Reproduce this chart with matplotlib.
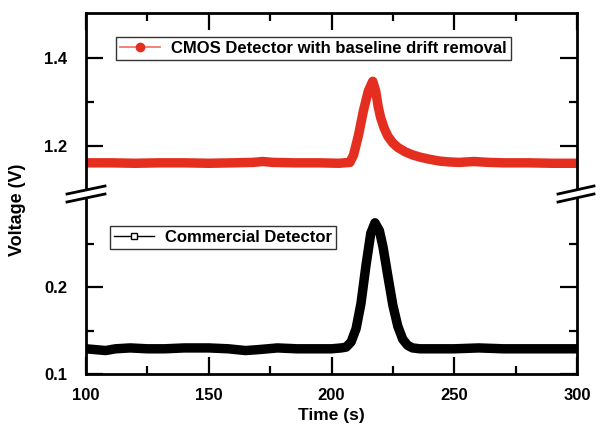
import matplotlib
matplotlib.use("Agg")
import matplotlib.pyplot as plt
from matplotlib.lines import Line2D
from matplotlib.patches import Polygon
from matplotlib.ticker import FixedLocator

plt.rcParams['font.family'] = ['Liberation Sans', 'DejaVu Sans']
plt.rcParams['font.weight'] = 'bold'

# CMOS detector signal after baseline drift removal
cmos_time = [100, 110, 120, 130, 140, 150, 160, 168, 172, 176, 185, 195, 203, 207.5,
             209, 211, 213, 215, 216.8, 218, 219, 220, 221.5, 223, 225, 227, 230, 233,
             236, 240, 244, 248, 252, 258, 264, 270, 280, 290, 300]
cmos_volt = [1.162, 1.162, 1.161, 1.162, 1.162, 1.161, 1.162, 1.163, 1.165, 1.163, 1.162,
             1.162, 1.161, 1.163, 1.180, 1.225, 1.280, 1.325, 1.347, 1.325, 1.290, 1.265,
             1.240, 1.222, 1.207, 1.197, 1.187, 1.180, 1.175, 1.170, 1.166, 1.164, 1.163,
             1.165, 1.163, 1.162, 1.162, 1.161, 1.161]

# Commercial detector signal
comm_time = [100, 104, 108, 112, 118, 125, 132, 140, 150, 158, 165, 170, 178, 186, 194,
             200, 204, 206, 208, 210, 212, 214, 216, 217.7, 219.5, 221, 223, 225, 227,
             229, 231, 233, 236, 242, 250, 260, 270, 280, 290, 300]
comm_volt = [0.129, 0.128, 0.127, 0.129, 0.130, 0.129, 0.129, 0.130, 0.130, 0.129, 0.127,
             0.128, 0.130, 0.129, 0.129, 0.129, 0.130, 0.131, 0.137, 0.152, 0.181, 0.224,
             0.262, 0.274, 0.265, 0.246, 0.212, 0.179, 0.155, 0.140, 0.133, 0.130, 0.129,
             0.129, 0.129, 0.130, 0.129, 0.129, 0.129, 0.129]

x_ticks = [100, 150, 200, 250, 300]
upper_yticks = [1.2, 1.4]
lower_yticks = [0.1, 0.2]

RED = '#e42e1f'
W, H = 600, 425
fig = plt.figure(figsize=(6, 4.25), dpi=100)

left, right = 86 / W, 577 / W
top, brk, bottom = 1 - 13 / H, 1 - 195 / H, 1 - 374 / H

ax_top = fig.add_axes([left, brk, right - left, top - brk])
ax_bot = fig.add_axes([left, bottom, right - left, brk - bottom])

ax_top.plot(cmos_time, cmos_volt, color=RED, lw=6.8, solid_joinstyle='round',
            solid_capstyle='butt')
ax_bot.plot(comm_time, comm_volt, color='black', lw=6.8, solid_joinstyle='round',
            solid_capstyle='butt')

ax_top.set_ylim(1.089, 1.502)
ax_bot.set_ylim(0.1, 0.306)
for ax in (ax_top, ax_bot):
    ax.set_xlim(100, 300)
    ax.xaxis.set_major_locator(FixedLocator(x_ticks))
    ax.xaxis.set_minor_locator(FixedLocator([125, 175, 225, 275]))
    for sp in ax.spines.values():
        sp.set_linewidth(2.0)
    ax.tick_params(which='major', direction='in', length=12, width=1.6,
                   labelsize=12, top=True, right=True)
    ax.tick_params(which='minor', direction='in', length=6, width=1.6,
                   top=True, right=True)
    ax.tick_params(axis='y', which='major', pad=13.5)
    ax.tick_params(axis='x', which='major', pad=10)

ax_top.yaxis.set_major_locator(FixedLocator(upper_yticks))
ax_top.yaxis.set_minor_locator(FixedLocator([1.3]))
ax_bot.yaxis.set_major_locator(FixedLocator(lower_yticks))
ax_bot.yaxis.set_minor_locator(FixedLocator([0.15, 0.25]))

ax_top.spines['bottom'].set_visible(False)
ax_bot.spines['top'].set_visible(False)
ax_top.tick_params(which='both', bottom=False, labelbottom=False)
ax_bot.tick_params(which='both', top=False)
ax_top.yaxis.set_major_formatter(plt.FuncFormatter(lambda v, p: f"{v:.1f}"))
ax_bot.yaxis.set_major_formatter(plt.FuncFormatter(lambda v, p: f"{v:.1f}"))

ax_bot.set_xlabel('Time (s)', fontsize=12.5, fontweight='bold', labelpad=4)
fig.text(18 / W, 1 - 210 / H, 'Voltage (V)', rotation=90, ha='center', va='center',
         fontsize=13, fontweight='bold')

# axis break marks on both spines
def break_mark(xc, yc, half_w=19, gap=8, rise=8):
    x0, x1 = xc - half_w, xc + half_w
    pts = [(x0, yc + rise / 2 - gap / 2), (x1, yc - rise / 2 - gap / 2),
           (x1, yc - rise / 2 + gap / 2), (x0, yc + rise / 2 + gap / 2)]
    fig.add_artist(Polygon([(x / W, 1 - y / H) for x, y in pts], closed=True,
                           facecolor='white', edgecolor='none',
                           transform=fig.transFigure, zorder=10))
    for dy in (-gap / 2, gap / 2):
        fig.add_artist(Line2D([x0 / W, x1 / W],
                              [1 - (yc + rise / 2 + dy) / H, 1 - (yc - rise / 2 + dy) / H],
                              color='black', lw=2.0, transform=fig.transFigure, zorder=11))

break_mark(86, 194)
break_mark(576, 194, half_w=18)

leg_kw = dict(frameon=True, fancybox=False, framealpha=1, edgecolor='#333333',
              prop={'size': 12, 'weight': 'bold'}, handlelength=2.4,
              handletextpad=0.65, borderpad=0.25, borderaxespad=0)
h_cmos = Line2D([], [], color='#f27a6e', lw=1.3, marker='o', ms=6,
                mfc=RED, mec=RED)
lg1 = ax_top.legend([h_cmos], ['CMOS Detector with baseline drift removal'],
                    loc='upper left', bbox_to_anchor=(116 / W, 1 - 37 / H),
                    bbox_transform=fig.transFigure, **leg_kw)
lg1.get_frame().set_linewidth(1.0)
h_comm = Line2D([], [], color='black', lw=1.0, marker='s', ms=5,
                mfc='white', mec='black')
lg2 = ax_bot.legend([h_comm], ['Commercial Detector'],
                    loc='upper left', bbox_to_anchor=(110 / W, 1 - 226 / H),
                    bbox_transform=fig.transFigure, **leg_kw)
lg2.get_frame().set_linewidth(1.0)

fig.savefig('out.png', dpi=100)
